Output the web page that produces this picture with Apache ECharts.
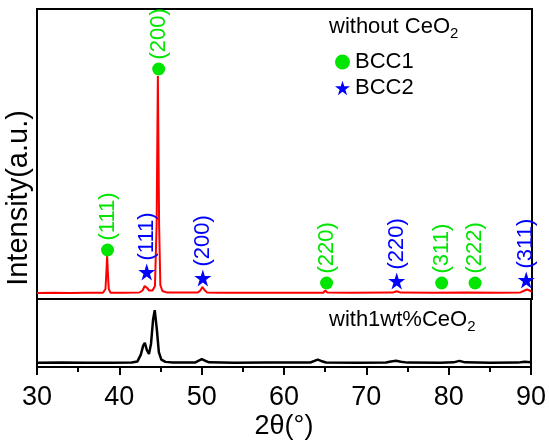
<!DOCTYPE html>
<html>
<head>
<meta charset="utf-8">
<script src="https://cdn.jsdelivr.net/npm/echarts@6/dist/echarts.min.js"></script>
<style>
  html, body { margin: 0; padding: 0; background: #fff; }
  #main { width: 549px; height: 441px; }
</style>
</head>
<body>
<div id="main"></div>
<script>
// 2θ range and ticks
const xMin = 30, xMax = 90, xStep = 10;

// without CeO2 scan: [2θ, intensity]
const scanWithout = [
    [30, 1], [32, 1.3], [34, 1.1], [36, 1.2], [38.0, 1.2], [38.3, 5], [38.4, 20], [38.5, 38],
    [38.6, 20], [38.7, 5], [38.9, 1.3], [40.0, 1.2], [40.2, 3], [40.4, 1.3], [42.4, 1.5],
    [42.8, 3.5], [43.05, 8], [43.2, 10], [43.35, 6], [43.6, 3.5], [44.0, 3.5], [44.3, 8],
    [44.5, 70], [44.65, 218], [44.8, 70], [44.95, 9], [45.2, 3], [45.7, 1.6], [49.5, 1.4],
    [49.8, 3.5], [50.05, 7], [50.3, 4], [50.6, 1.6], [52, 1.2], [56, 1.3], [60, 1.2],
    [64.7, 1.3], [64.95, 3.5], [65.2, 1.4], [68, 1.2], [73.1, 1.4], [73.6, 2.8], [74.1, 1.4],
    [78, 1.2], [82, 1.4], [86, 1.2], [88.6, 1.6], [89.1, 3.5], [89.4, 4.5], [89.7, 3.5], [90, 2.2]
];

// with 1wt% CeO2 scan: [2θ, intensity]
const scanWith = [
    [30, 4.5], [33, 4.7], [36, 4.5], [39, 4.6], [41.5, 4.8], [42.2, 6], [42.6, 13], [42.9, 23],
    [43.1, 26], [43.35, 18], [43.6, 14], [43.85, 25], [44.1, 51], [44.3, 61], [44.55, 41],
    [44.8, 16], [45.1, 8], [45.6, 5.5], [46.5, 4.8], [49.2, 4.8], [49.7, 7], [50.0, 8.5],
    [50.35, 7], [50.9, 5], [54, 4.6], [58, 4.7], [63.2, 4.8], [63.7, 6.5], [64.1, 8],
    [64.5, 6.5], [65.1, 4.8], [69, 4.6], [72.4, 4.8], [73.0, 6], [73.6, 6.6], [74.2, 5.6],
    [75, 4.7], [79, 4.6], [80.6, 5], [81.3, 6.6], [82.0, 5], [85, 4.6], [88.4, 4.7],
    [89.2, 5.6], [90, 5]
];

// phase markers: [2θ, marker height, label]
const bcc1Peaks = [
    [38.55, 44, '(111)'], [44.75, 225, '(200)'], [65.1, 11, '(220)'],
    [79.05, 11, '(311)'], [83.1, 11, '(222)']
];
const bcc2Peaks = [
    [43.3, 22, '(111)'], [50.1, 16, '(200)'], [73.6, 13, '(220)'], [89.3, 14, '(311)']
];

const FONT = 'Liberation Sans';
const GREEN = '#00e600';
const BLUE = '#0000ff';
const STAR = 'path://M50 0 L61.23 34.55 L97.55 34.55 L68.16 55.9 L79.39 90.45 L50 69.1 L20.61 90.45 L31.84 55.9 L2.45 34.55 L38.77 34.55 Z';

function peakLabel(color) {
    return {
        show: true, position: 'top', rotate: 90, align: 'left', verticalAlign: 'middle',
        distance: 3, color: color, fontFamily: FONT, fontSize: 22,
        formatter: p => p.data[2]
    };
}

let myChart = echarts.init(document.getElementById('main'));

let option = {
    animation: false,
    grid: [
        {left: 37, right: 17, top: 9, height: 290, show: true, borderColor: '#000', borderWidth: 2},
        {left: 37, right: 17, top: 299, height: 73, show: true, borderColor: '#000', borderWidth: 2}
    ],
    xAxis: [{
        gridIndex: 0, type: 'value', min: xMin, max: xMax, interval: xStep,
        axisLine: {show: false}, axisTick: {show: false}, axisLabel: {show: false}, splitLine: {show: false}
    }, {
        gridIndex: 1, type: 'value', min: xMin, max: xMax, interval: xStep,
        name: '2θ(°)', nameLocation: 'middle', nameGap: 46,
        nameTextStyle: {fontFamily: FONT, fontSize: 27, color: '#000'},
        axisLine: {lineStyle: {color: '#000', width: 2}},
        axisTick: {show: true, inside: false, length: 8, lineStyle: {color: '#000', width: 2}},
        minorTick: {show: true, splitNumber: 2, length: 5, lineStyle: {color: '#000', width: 2}},
        axisLabel: {fontFamily: FONT, fontSize: 27, color: '#000', margin: 17},
        splitLine: {show: false}
    }],
    yAxis: [{
        gridIndex: 0, type: 'value', min: -5, max: 285,
        axisLine: {show: false}, axisTick: {show: false}, axisLabel: {show: false}, splitLine: {show: false}
    }, {
        gridIndex: 1, type: 'value', min: 0, max: 73,
        axisLine: {show: false}, axisTick: {show: false}, axisLabel: {show: false}, splitLine: {show: false}
    }],
    legend: {
        orient: 'vertical', left: 330, top: 46, itemGap: 4, itemWidth: 15, itemHeight: 15,
        textStyle: {fontFamily: FONT, fontSize: 22, color: '#000'},
        data: [{name: 'BCC1', icon: 'circle'}, {name: 'BCC2', icon: STAR}]
    },
    graphic: [{
        type: 'text', x: 19, y: 198, rotation: Math.PI / 2,
        style: {text: 'Intensity(a.u.)', font: '29px "Liberation Sans"', fill: '#000', align: 'center', verticalAlign: 'middle'}
    }, {
        type: 'text', left: 329, top: 16,
        style: {
            text: 'without CeO{sub|2}', fill: '#000', font: '22px "Liberation Sans"',
            rich: {sub: {fontSize: 15, fontFamily: FONT, padding: [13, 0, 0, 0]}}
        }
    }, {
        type: 'text', left: 329, top: 309,
        style: {
            text: 'with1wt%CeO{sub|2}', fill: '#000', font: '22px "Liberation Sans"',
            rich: {sub: {fontSize: 15, fontFamily: FONT, padding: [13, 0, 0, 0]}}
        }
    }],
    series: [{
        name: 'without', type: 'line', xAxisIndex: 0, yAxisIndex: 0, data: scanWithout,
        showSymbol: false, lineStyle: {color: '#ff0000', width: 2}, itemStyle: {color: '#ff0000'}, z: 2
    }, {
        name: 'with', type: 'line', xAxisIndex: 1, yAxisIndex: 1, data: scanWith,
        showSymbol: false, lineStyle: {color: '#000', width: 2.5}, itemStyle: {color: '#000'}, z: 2
    }, {
        name: 'BCC1', type: 'scatter', xAxisIndex: 0, yAxisIndex: 0, data: bcc1Peaks,
        symbol: 'circle', symbolSize: 13, itemStyle: {color: GREEN, opacity: 1},
        label: peakLabel(GREEN), clip: false, z: 3
    }, {
        name: 'BCC2', type: 'scatter', xAxisIndex: 0, yAxisIndex: 0, data: bcc2Peaks,
        symbol: STAR, symbolSize: 17, itemStyle: {color: BLUE, opacity: 1},
        label: peakLabel(BLUE), clip: false, z: 3
    }]
};

myChart.setOption(option);
</script>
</body>
</html>
